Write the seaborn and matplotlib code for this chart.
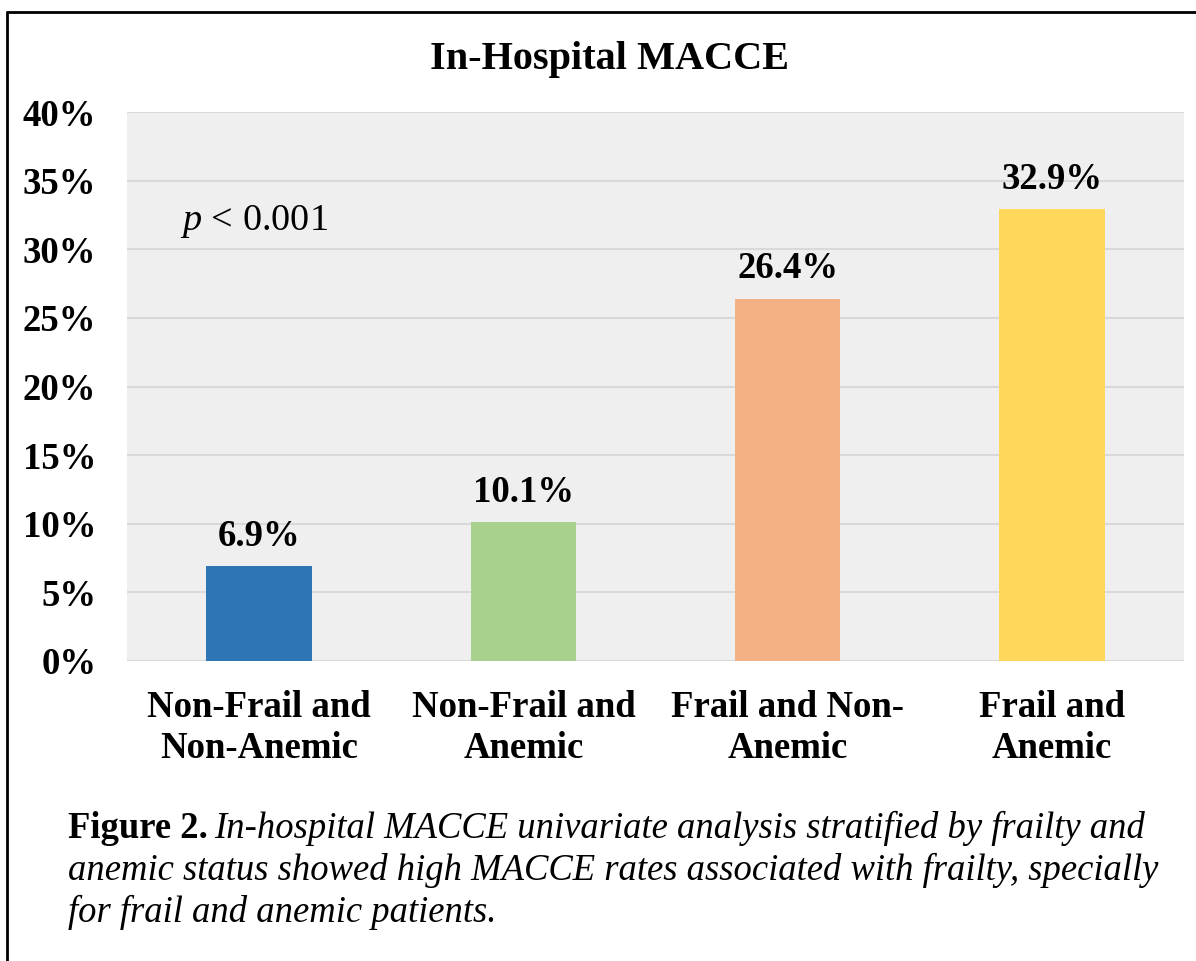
import numpy as np
import pandas as pd
import seaborn as sns
from matplotlib import pyplot as plt
from matplotlib.lines import Line2D
from matplotlib.ticker import PercentFormatter

# data
groups = ["Non-Frail and\nNon-Anemic", "Non-Frail and\nAnemic",
          "Frail and Non-\nAnemic", "Frail and\nAnemic"]
rates = [6.9, 10.1, 26.4, 32.9]
colors = ["#2e75b6", "#a9d18e", "#f4b183", "#ffd75b"]
yticks = [0, 5, 10, 15, 20, 25, 30, 35, 40]

df = pd.DataFrame({"group": groups, "rate": rates})

sns.set_style("white")
plt.rcParams['font.family'] = ['Liberation Serif', 'DejaVu Serif']
plt.rcParams['text.color'] = 'black'
plt.rcParams['xtick.color'] = 'black'
plt.rcParams['ytick.color'] = 'black'
plt.rcParams['mathtext.fontset'] = 'custom'
plt.rcParams['mathtext.it'] = 'Liberation Serif:italic'
plt.rcParams['mathtext.rm'] = 'Liberation Serif'

fig = plt.figure(figsize=(11.96, 9.61), dpi=100)
W, H = 1196, 961
ax = fig.add_axes([127 / W, 1 - 661 / H, (1184 - 127) / W, (661 - 112) / H])
ax.set_facecolor("#efefef")

sns.barplot(data=df, x="group", y="rate", hue="group", palette=colors,
            legend=False, width=0.4, saturation=1, linewidth=0, ax=ax, zorder=3)

ax.set_ylim(0, 40)
ax.set_xlim(-0.5, 3.5)
ax.set_yticks(yticks)
ax.yaxis.set_major_formatter(PercentFormatter(decimals=0))
ax.grid(axis="y", color="#d9d9d9", linewidth=1.5, zorder=0)
ax.set_axisbelow(True)
for s in ax.spines.values():
    s.set_visible(False)
ax.tick_params(axis="both", length=0, labelsize=26.5)
ax.tick_params(axis="y", pad=22)
ax.tick_params(axis="x", pad=21)
for lab in ax.get_xticklabels() + ax.get_yticklabels():
    lab.set_fontweight("bold")
for lab in ax.get_xticklabels():
    lab.set_linespacing(1.2)
ax.set_xlabel("")
ax.set_ylabel("")

# value labels
for i, v in enumerate(rates):
    ax.annotate(f"{v}%", (i, v), xytext=(0, 9), textcoords="offset points",
                ha="center", va="bottom", fontsize=26.5, fontweight="bold")

ax.text(180 / W, 1 - 230 / H, "$\\it{p}$ < 0.001", transform=fig.transFigure,
        fontsize=27.5, ha="left", va="baseline")

fig.text(610 / W, 1 - 69 / H, "In-Hospital MACCE", ha="center", va="baseline",
         fontsize=29, fontweight="bold")

# caption
fig.canvas.draw()
r = fig.canvas.get_renderer()
t0 = fig.text(68 / W, 1 - 838 / H, "Figure 2.", fontsize=26.4, fontweight="bold",
              va="baseline")
bb = t0.get_window_extent(renderer=r)
fig.text(bb.x1 / W + 6 / W, 1 - 838 / H,
         "In-hospital MACCE univariate analysis stratified by frailty and",
         fontsize=26.4, style="italic", va="baseline")
fig.text(68 / W, 1 - 880 / H,
         "anemic status showed high MACCE rates associated with frailty, specially",
         fontsize=26.4, style="italic", va="baseline")
fig.text(68 / W, 1 - 922 / H, "for frail and anemic patients.",
         fontsize=26.4, style="italic", va="baseline")

# frame
fig.add_artist(Line2D([7 / W, 7 / W], [0, 1 - 12 / H], transform=fig.transFigure,
                      color="black", linewidth=2))
fig.add_artist(Line2D([7 / W, 1], [1 - 12 / H, 1 - 12 / H], transform=fig.transFigure,
                      color="black", linewidth=2))

fig.savefig("out.png", dpi=100)
